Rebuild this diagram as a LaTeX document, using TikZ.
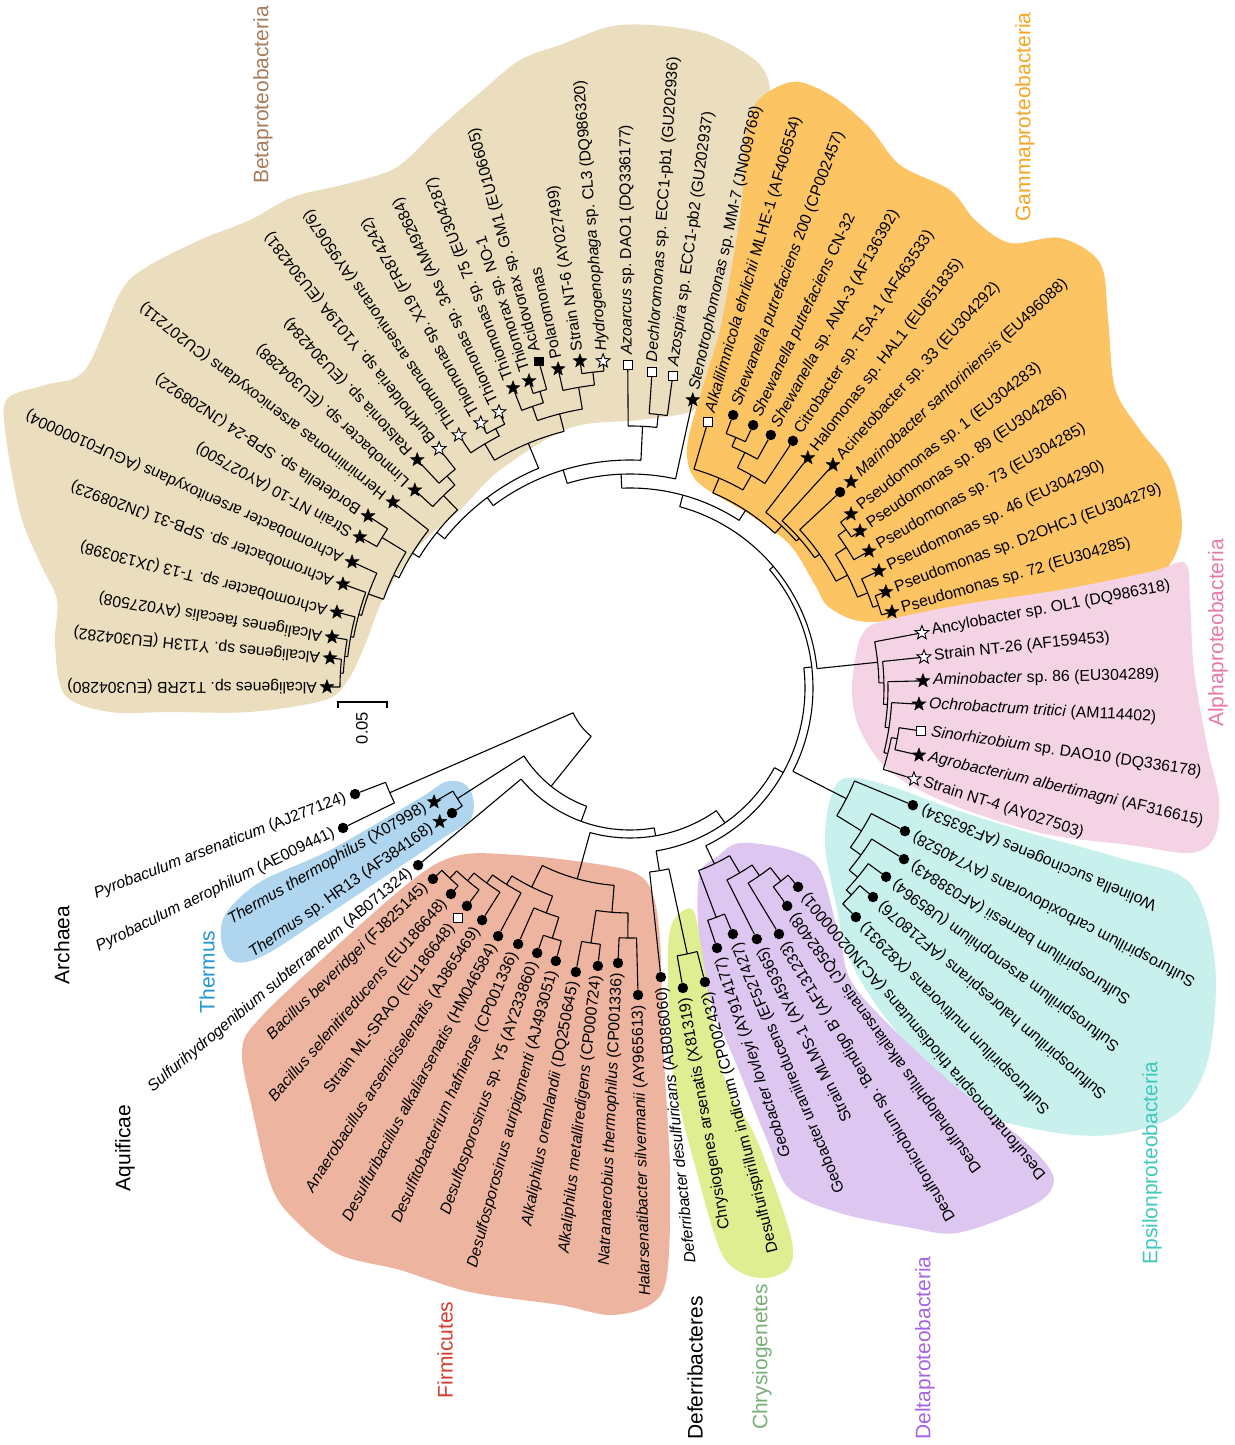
\documentclass[tikz,border=0pt]{standalone}
\usepackage{fontspec}
\setmainfont{Liberation Sans}
\usetikzlibrary{shapes.geometric}

\definecolor{betaF}{RGB}{234,222,190}
\definecolor{gammaF}{RGB}{253,196,100}
\definecolor{alphaF}{RGB}{244,212,228}
\definecolor{epsF}{RGB}{200,240,236}
\definecolor{deltaF}{RGB}{221,199,240}
\definecolor{chrysF}{RGB}{222,238,145}
\definecolor{firmF}{RGB}{237,181,160}
\definecolor{thermF}{RGB}{175,214,238}
\definecolor{betaC}{RGB}{166,124,90}
\definecolor{gammaC}{RGB}{245,166,35}
\definecolor{alphaC}{RGB}{232,120,170}
\definecolor{epsC}{RGB}{64,200,190}
\definecolor{deltaC}{RGB}{165,100,225}
\definecolor{chrysC}{RGB}{120,175,120}
\definecolor{firmC}{RGB}{215,60,45}
\definecolor{thermC}{RGB}{35,150,210}

\tikzset{
    tree/.style={line width=1.1pt},
    bstar/.style={star, star points=5, star point ratio=2.4, fill=black, draw=black, line width=0.4pt, inner sep=0pt, minimum size=14.5pt},
    wstar/.style={star, star points=5, star point ratio=2.4, fill=white, draw=black, line width=0.9pt, inner sep=0pt, minimum size=14.5pt},
    bdot/.style={circle, fill=black, inner sep=0pt, minimum size=10.5pt},
    wsq/.style={rectangle, fill=white, draw=black, line width=0.9pt, inner sep=0pt, minimum size=9pt},
    bsq/.style={rectangle, fill=black, inner sep=0pt, minimum size=9.5pt},
    lbl/.style={font=\fontsize{15.8}{18}\selectfont\frenchspacing, inner sep=0pt},
    grp/.style={font=\fontsize{21}{24}\selectfont, rotate=90, inner sep=0pt}
}

\newcommand{\clade}[5]{%
    \pgfmathsetmacro{\cmid}{(#3+#4)/2}%
    \coordinate (#1) at (\cmid:#2);
    \draw[tree] (#3:#2) arc[start angle=#3, end angle=#4, radius=#2pt];
    \draw[tree] (\cmid:#5) -- (#1);
}
\newcommand{\leafA}[6]{%
    \node[#5] (#1) at (#2:#3) {};
    \draw[tree] (#2:#4) -- (#1);
    \path (#1) ++(#2:10) node[lbl, anchor=west, rotate=#2] {#6};
}
\newcommand{\leafAA}[7]{%
    \pgfmathsetmacro{\rout}{#3+15}%
    \node[#5] (#1) at (#2:#3) {};
    \node[#6] (#1x) at (#2:\rout) {};
    \draw[tree] (#2:#4) -- (#1);
    \path (#1x) ++(#2:10) node[lbl, anchor=west, rotate=#2] {#7};
}
\newcommand{\leafB}[6]{%
    \pgfmathsetmacro{\lrot}{#2+180}%
    \node[#5] (#1) at (#2:#3) {};
    \draw[tree] (#2:#4) -- (#1);
    \path (#1) ++(#2:10) node[lbl, anchor=east, rotate=\lrot] {#6};
}
\newcommand{\leafBB}[7]{%
    \pgfmathsetmacro{\lrot}{#2+180}%
    \pgfmathsetmacro{\rout}{#3+15}%
    \node[#5] (#1) at (#2:#3) {};
    \node[#6] (#1x) at (#2:\rout) {};
    \draw[tree] (#2:#4) -- (#1);
    \path (#1x) ++(#2:10) node[lbl, anchor=east, rotate=\lrot] {#7};
}

\begin{document}
\begin{tikzpicture}[x=1pt, y=1pt]
    \useasboundingbox (-630,-757) rectangle (604,688);

    \fill[betaF] plot[smooth cycle, tension=0.55] coordinates {(-70,643) (-10,663) (70,656) (125,628) (140,600) (135,568) (132,488) (120,398) (102,313) (76,293) (60,276) (10,268) (-60,260) (-130,218) (-170,178) (-210,143) (-245,93) (-265,43) (-282,8) (-305,-12) (-380,-24) (-460,-24) (-520,-24) (-565,-7) (-575,43) (-573,88) (-590,125) (-610,175) (-625,258) (-622,290) (-585,303) (-545,318) (-510,395) (-485,420) (-430,448) (-380,468) (-337,491) (-280,505) (-233,521) (-193,558) (-147,598) (-110,628)};
    \fill[gammaF] plot[smooth cycle, tension=0.55] coordinates {(60,218) (58,248) (75,308) (90,358) (103,428) (112,488) (115,548) (125,583) (145,600) (170,606) (205,590) (240,560) (270,523) (320,498) (345,468) (380,445) (430,450) (470,425) (478,370) (485,300) (510,258) (540,218) (552,160) (535,118) (490,103) (420,91) (330,78) (240,66) (200,80) (185,103) (160,143) (120,173) (75,200)};
    \fill[epsF] plot[smooth cycle, tension=0.55] coordinates {(215,-90) (260,-98) (320,-120) (400,-145) (490,-170) (560,-195) (585,-275) (578,-372) (545,-427) (480,-447) (410,-442) (343,-419) (263,-339) (220,-272) (205,-212) (195,-157) (200,-112)};
    \fill[alphaF] plot[smooth cycle, tension=0.55] coordinates {(225,28) (232,53) (250,66) (330,83) (430,98) (520,116) (555,125) (560,88) (564,18) (577,-57) (589,-112) (584,-150) (560,-165) (500,-157) (420,-147) (350,-127) (295,-105) (255,-79) (230,-42) (222,-7)};
    \fill[deltaF] plot[smooth cycle, tension=0.55] coordinates {(70,-185) (87,-169) (110,-155) (160,-162) (190,-182) (210,-252) (227,-302) (310,-385) (393,-452) (422,-485) (419,-505) (393,-522) (327,-545) (277,-539) (210,-525) (160,-502) (137,-452) (110,-385) (77,-302) (68,-235)};
    \fill[chrysF] plot[smooth cycle, tension=0.55] coordinates {(40,-242) (50,-225) (63,-222) (70,-252) (93,-385) (127,-452) (160,-545) (160,-578) (137,-590) (110,-584) (90,-562) (67,-485) (43,-385) (38,-285)};
    \fill[firmF] plot[smooth cycle, tension=0.55] coordinates {(37,-587) (20,-617) (-20,-627) (-70,-617) (-160,-604) (-230,-582) (-290,-567) (-330,-537) (-358,-500) (-378,-420) (-388,-362) (-370,-330) (-300,-264) (-215,-190) (-170,-167) (-113,-167) (-47,-174) (3,-184) (22,-204) (30,-252) (33,-352) (40,-485)};
    \fill[thermF] plot[smooth cycle, tension=0.55] coordinates {(-167,-95) (-157,-109) (-160,-132) (-190,-152) (-300,-225) (-365,-267) (-395,-274) (-408,-257) (-405,-227) (-370,-194) (-300,-162) (-210,-110) (-185,-94)};

    \clade{a1}{290}{174.3}{179.8}{287}
    \clade{a2}{287}{170.3}{177.05}{284}
    \clade{a3}{284}{165.5}{173.7}{281}
    \clade{a4}{281}{160.1}{169.6}{278}
    \clade{a5}{278}{155.6}{164.85}{262}
    \clade{b1}{290}{146.7}{150.8}{262}
    \clade{a6}{262}{148.75}{160.2}{256}
    \clade{c1}{256}{141.9}{154.5}{248}
    \clade{c2}{280}{128.6}{133.0}{268}
    \clade{c3}{268}{130.8}{137.4}{248}
    \clade{c4}{248}{134.1}{148.2}{238}
    \clade{d1}{292}{115.4}{119.4}{284}
    \clade{d2}{284}{117.4}{124.1}{265}
    \clade{e1}{310}{105.6}{108.2}{298}
    \clade{e2}{298}{106.9}{111.3}{283}
    \clade{e3}{318}{94.7}{98.7}{305}
    \clade{e4}{305}{96.7}{102.7}{283}
    \clade{e5}{283}{99.7}{109.1}{265}
    \clade{f}{265}{104.4}{120.75}{238}
    \clade{g}{238}{112.575}{141.15}{228}
    \clade{h1b}{275}{82.2}{86.0}{262}
    \clade{h1a}{262}{84.1}{90.4}{228}
    \clade{h2}{228}{87.25}{126.86}{214}
    \clade{R6}{214}{77.7}{107.05}{200}

    \clade{g1}{272}{64.9}{69.3}{262}
    \clade{g2}{262}{60.9}{67.1}{245}
    \clade{g3}{245}{56.6}{64.0}{228}
    \clade{g4}{228}{60.3}{73.7}{212}
    \clade{p1}{268}{34.3}{38.2}{258}
    \clade{p2}{258}{29.8}{36.25}{245}
    \clade{p3}{262}{16.2}{20.6}{256}
    \clade{p4}{256}{18.4}{25.2}{245}
    \clade{p5}{245}{21.8}{33.03}{232}
    \clade{p6}{232}{27.4}{43.0}{226}
    \clade{p7}{226}{35.2}{47.7}{222}
    \clade{p8}{222}{41.45}{52.3}{212}
    \clade{g5}{212}{46.9}{67.0}{200}
    \clade{R5}{200}{56.95}{92.375}{188}

    \clade{al1}{272}{-13.1}{-8.4}{266}
    \clade{al2}{266}{-17.8}{-10.75}{262}
    \clade{al3}{262}{-14.275}{-3.2}{258}
    \clade{al4}{258}{-8.74}{1.4}{254}
    \clade{al5}{254}{-3.67}{6.0}{249}
    \clade{al6}{249}{1.165}{10.7}{188}
    \clade{R4}{188}{5.93}{74.66}{183}

    \clade{ep1}{303}{-45.4}{-40.7}{296}
    \clade{ep2}{296}{-43.05}{-36.4}{285}
    \clade{ep3}{285}{-39.73}{-32}{272}
    \clade{ep4}{272}{-35.86}{-27.5}{243}
    \clade{ep5}{243}{-31.68}{-22.5}{183}
    \clade{R3}{183}{-27.09}{40.3}{175}

    \clade{de1}{245}{-54.2}{-49.8}{228}
    \clade{de2}{228}{-58.8}{-52}{215}
    \clade{de3}{215}{-63.2}{-55.4}{195}
    \clade{de4}{245}{-71.5}{-67.3}{195}
    \clade{de5}{195}{-69.4}{-59.3}{175}
    \clade{R2}{175}{-64.35}{6.6}{165}

    \clade{ch1}{272}{-80}{-75.7}{185}
    \clade{dc}{185}{-83.9}{-77.85}{165}
    \clade{R1}{165}{-80.875}{-28.875}{150}

    \clade{f1}{262}{-135.9}{-131.0}{252}
    \clade{f2}{252}{-133.45}{-126.8}{242}
    \clade{f3}{242}{-130.125}{-122.5}{232}
    \clade{f4}{232}{-126.31}{-118}{222}
    \clade{f5}{262}{-109.3}{-105.2}{240}
    \clade{f6}{240}{-113.6}{-107.25}{222}
    \clade{f7}{222}{-122.16}{-110.43}{198}
    \clade{f8}{258}{-100.8}{-96.6}{225}
    \clade{f9}{250}{-92.5}{-88.5}{225}
    \clade{f10}{225}{-98.7}{-90.5}{198}
    \clade{f11}{198}{-116.29}{-94.6}{150}
    \clade{B3}{150}{-105.45}{-54.875}{142}
    \clade{B2}{142}{-140.1}{-80.16}{126}
    \clade{th}{205}{-149.8}{-144.9}{126}
    \clade{B1}{126}{-147.35}{-110.13}{62}
    \clade{ar}{262}{-158.9}{-154}{62}
    \clade{root}{62}{-156.45}{-128.74}{62}

    \leafA{t12rb}{179.8}{303}{290}{bstar}{Alcaligenes sp. T12RB (EU304280)}
    \leafA{y113h}{174.3}{301.5}{290}{bstar}{Alcaligenes sp. Y113H (EU304282)}
    \leafA{afaec}{170.3}{302.3}{287}{bstar}{Alcaligenes faecalis (AY027508)}
    \leafA{acht13}{165.5}{302.7}{284}{bstar}{Achromobacter sp. T-13 (JX130398)}
    \leafA{achspb}{160.1}{305.3}{281}{bstar}{Achromobacter sp. SPB-31 (JN208923)}
    \leafA{achars}{155.6}{305.2}{278}{bstar}{Achromobacter arsenitoxydans (AGUF01000004)}
    \leafA{nt10}{150.8}{309.4}{290}{bstar}{Strain NT-10 (AY027500)}
    \leafA{bord}{146.7}{313.4}{290}{bstar}{Bordetella sp. SPB-24 (JN208922)}
    \leafA{herm}{141.9}{301.3}{256}{bstar}{Herminiimonas arsenicoxydans (CU207211)}
    \leafA{limno}{137.4}{292.3}{268}{bstar}{Limnobacter sp. (EU304288)}
    \leafA{ralst}{133.0}{312}{280}{bstar}{Ralstonia sp. (EU304284)}
    \leafA{burk}{128.6}{306}{280}{wstar}{Burkholderia sp. Y1019A (EU304281)}
    \leafA{thars}{124.1}{305.4}{284}{wstar}{Thiomonas arsenivorans (AY950676)}
    \leafA{thx19}{119.4}{304}{292}{wstar}{Thiomonas sp. X19 (FR874242)}
    \leafA{th3as}{115.4}{305.5}{292}{wstar}{Thiomonas sp. 3As (AM492684)}
    \leafA{th75}{111.3}{322}{298}{bstar}{Thiomonas sp. 75 (EU304287)}
    \leafA{no1}{108.2}{323.3}{310}{bstar}{Thiomorax sp. NO-1}
    \leafA{gm1}{105.6}{339.2}{310}{bsq}{Acidovorax sp. GM1 (EU106605)}
    \leafA{polar}{102.7}{327}{305}{bstar}{Polaromonas}
    \leafA{nt6}{98.7}{330.8}{318}{bstar}{Strain NT-6 (AY027499)}
    \leafA{hydro}{94.7}{328.1}{318}{wstar}{\textit{Hydrogenophaga} sp. CL3 (DQ986320)}
    \leafA{azoar}{90.4}{323}{262}{wsq}{\textit{Azoarcus} sp. DAO1 (DQ336177)}
    \leafA{dechl}{86.0}{316.8}{275}{wsq}{\textit{Dechloromonas} sp. ECC1-pb1 (GU202936)}
    \leafA{azosp}{82.2}{315}{275}{wsq}{\textit{Azospira} sp. ECC1-pb2 (GU202937)}
    \leafA{steno}{77.7}{294.8}{214}{bstar}{\textit{Stenotrophomonas} sp. MM-7 (JN009768)}

    \leafA{alkal}{73.7}{277.2}{228}{wsq}{\textit{Alkalilimnicola ehrlichii} MLHE-1 (AF406554)}
    \leafA{shew200}{69.3}{291.8}{272}{bdot}{\textit{Shewanella putrefaciens} 200 (CP002457)}
    \leafA{shewcn}{64.9}{290.3}{272}{bdot}{\textit{Shewanella putrefaciens} CN-32}
    \leafA{shewana}{60.9}{289.6}{262}{bdot}{\textit{Shewanella} sp. ANA-3 (AF136392)}
    \leafA{citro}{56.6}{296}{245}{bdot}{Citrobacter sp. TSA-1 (AF463533)}
    \leafA{halo}{52.3}{290.8}{222}{bstar}{Halomonas sp. HAL1 (EU651835)}
    \leafA{acine}{47.7}{301.6}{226}{bstar}{Acinetobacter sp. 33 (EU304292)}
    \leafAA{marino}{43.0}{287.3}{232}{bdot}{bstar}{\textit{Marinobacter santoriniensis} (EU496088)}
    \leafA{ps1}{38.2}{281.3}{268}{bstar}{Pseudomonas sp. 1 (EU304283)}
    \leafA{ps89}{34.3}{278.5}{268}{bstar}{Pseudomonas sp. 89 (EU304286)}
    \leafA{ps73}{29.8}{275.5}{258}{bstar}{Pseudomonas sp. 73 (EU304285)}
    \leafA{ps46}{25.2}{275.1}{256}{bstar}{Pseudomonas sp. 46 (EU304290)}
    \leafA{psd2}{20.6}{273.4}{262}{bstar}{Pseudomonas sp. D2OHCJ (EU304279)}
    \leafA{ps72}{16.2}{272.8}{262}{bstar}{Pseudomonas sp. 72 (EU304285)}

    \leafA{ancy}{10.7}{297.1}{249}{wstar}{Ancylobacter sp. OL1 (DQ986318)}
    \leafA{nt26}{6.0}{295.6}{254}{wstar}{Strain NT-26 (AF159453)}
    \leafA{amino}{1.4}{293.1}{258}{bstar}{\textit{Aminobacter} sp. 86 (EU304289)}
    \leafA{ochro}{-3.2}{289.4}{262}{bstar}{\textit{Ochrobactrum tritici} (AM114402)}
    \leafA{sino}{-8.4}{294.2}{272}{wsq}{\textit{Sinorhizobium} sp. DAO10 (DQ336178)}
    \leafA{agro}{-13.1}{296.7}{272}{bstar}{\textit{Agrobacterium albertimagni} (AF316615)}
    \leafA{nt4}{-17.8}{298.2}{266}{wstar}{Strain NT-4 (AY027503)}

    \leafB{wolin}{-22.5}{306.2}{243}{bdot}{Wolinella succinogenes (AF363534)}
    \leafB{scarb}{-27.5}{310}{272}{bdot}{Sulfurospirillum carboxidovorans (AY740528)}
    \leafB{sbarn}{-32}{323}{285}{bdot}{Sulfurospirillum barnesii (AF038843)}
    \leafB{sarsen}{-36.4}{318.2}{296}{bdot}{Sulfurospirillum arsenophilum (U85964)}
    \leafB{shalo}{-40.7}{320.5}{303}{bdot}{Sulfurospirillum halorespirans (AF218076)}
    \leafB{smulti}{-45.4}{321.7}{303}{bdot}{Sulfurospirillum multivorans (X82931)}

    \leafB{dnatr}{-49.8}{260.4}{245}{bdot}{Desulfonatronospira thiodismutans (ACJN02000001)}
    \leafB{dhalo}{-54.2}{268.7}{245}{bdot}{Desulfohalophilus alkaliarsenatis (JQ582408)}
    \leafB{dmicro}{-58.8}{287.6}{228}{bdot}{Desulfomicrobium sp. `Bendigo B' (AF131233)}
    \leafB{mlms}{-63.2}{281.3}{215}{bdot}{Strain MLMS-1 (AY459365)}
    \leafB{gurani}{-67.3}{266.7}{245}{bdot}{Geobacter uraniireducens (EF527427)}
    \leafB{glov}{-71.5}{274.2}{245}{bdot}{\textit{Geobacter lovleyi} (AY914177)}

    \leafB{desfi}{-75.7}{303.4}{272}{bdot}{Desulfurispirillum indicum (CP002432)}
    \leafB{chrys}{-80.0}{304.6}{272}{bdot}{Chrysiogenes arsenatis (X81319)}
    \leafB{deferr}{-83.9}{290.7}{185}{bdot}{\textit{Deferribacter desulfuricans} (AB086060)}

    \leafB{halars}{-88.5}{307.1}{250}{bdot}{\textit{Halarsenatibacter silvermanii} (AY965613)}
    \leafB{natra}{-92.5}{275.3}{250}{bdot}{\textit{Natranaerobius thermophilus} (CP001336)}
    \leafB{ametal}{-96.6}{279.8}{258}{bdot}{\textit{Alkaliphilus metalliredigens} (CP000724)}
    \leafB{aorem}{-100.8}{289.1}{258}{bdot}{\textit{Alkaliphilus oremlandii} (DQ250645)}
    \leafB{dauri}{-105.2}{282.9}{262}{bdot}{\textit{Desulfosporosinus auripigmenti} (AJ493051)}
    \leafB{dy5}{-109.3}{280.8}{262}{bdot}{\textit{Desulfosporosinus} sp. Y5 (AY233860)}
    \leafB{dhafn}{-113.6}{279.4}{240}{bdot}{\textit{Desulfitobacterium hafniense} (CP001336)}
    \leafB{dalka}{-118}{281}{232}{bdot}{\textit{Desulfuribacillus alkaliarsenatis} (HM046584)}
    \leafB{anaer}{-122.5}{275.2}{242}{bdot}{\textit{Anaerobacillus arseniciselenatis} (AJ865469)}
    \leafBB{mlsrao}{-126.8}{272.2}{252}{bdot}{wsq}{Strain ML-SRAO (EU186648)}
    \leafB{bsele}{-131.0}{272.9}{262}{bdot}{\textit{Bacillus selenitireducens} (EU186648)}
    \leafB{bbeve}{-135.9}{274.4}{262}{bdot}{\textit{Bacillus beveridgei} (FJ825145)}

    \leafB{sulfu}{-140.1}{276.2}{142}{bdot}{\textit{Sulfurihydrogenibium subterraneum} (AB071324)}
    \leafB{tthermo}{-149.8}{226.7}{205}{bstar}{\textit{Thermus thermophilus} (X07998)}
    \leafBB{thr13}{-144.9}{217.5}{205}{bdot}{bstar}{\textit{Thermus} sp. HR13 (AF384168)}
    \leafB{pars}{-158.9}{294.7}{262}{bdot}{\textit{Pyrobaculum arsenaticum} (AJ277124)}
    \leafB{paer}{-154.0}{319.3}{262}{bdot}{\textit{Pyrobaculum aerophilum} (AE009441)}

    \coordinate (sbL) at (-292,-14);
    \coordinate (sbR) at (-243,-14);
    \draw[tree] (sbL) ++(0,-6) -- (sbL) -- (sbR) -- ++(0,-6);
    \node[lbl, rotate=90, font=\fontsize{16.5}{18}\selectfont] (sbtxt) at (-268,-40) {0.05};

    \node[grp, text=betaC] (nbeta) at (-367,593) {Betaproteobacteria};
    \node[grp, text=gammaC] (ngamma) at (395,571) {Gammaproteobacteria};
    \node[grp, text=alphaC] (nalpha) at (588,55) {Alphaproteobacteria};
    \node[grp, text=epsC] (neps) at (522,-475) {Epsilonproteobacteria};
    \node[grp, text=deltaC] (ndelta) at (295,-660) {Deltaproteobacteria};
    \node[grp, text=chrysC] (nchrys) at (132,-669) {Chrysiogenetes};
    \node[grp] (ndef) at (65,-680) {Deferribacteres};
    \node[grp, text=firmC] (nfirm) at (-185,-662) {Firmicutes};
    \node[grp] (naqui) at (-505,-460) {Aquificae};
    \node[grp, text=thermC] (ntherm) at (-423,-284) {Thermus};
    \node[grp] (narch) at (-568,-257) {Archaea};
\end{tikzpicture}
\end{document}
